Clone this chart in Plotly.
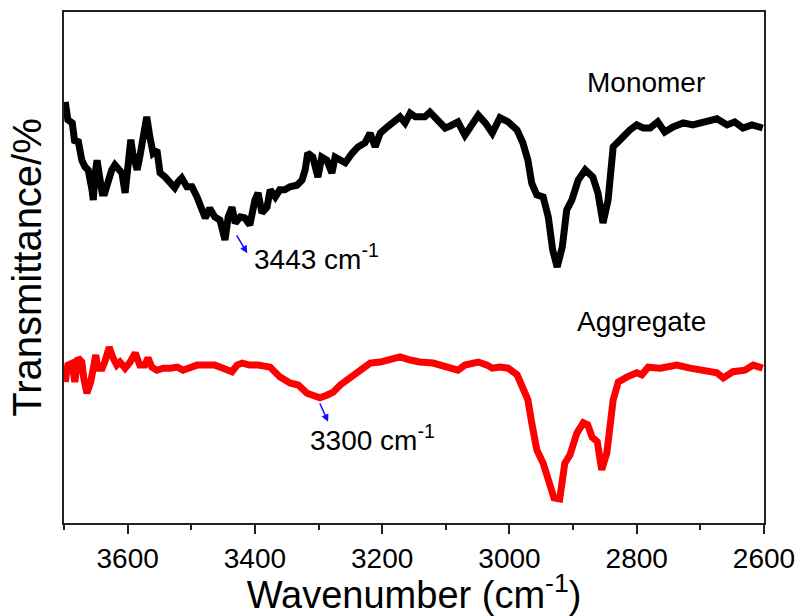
import plotly.graph_objects as go

# ---- data ----
mono_wn = [3698, 3694, 3687, 3683, 3678, 3675, 3672, 3667, 3662, 3656, 3654, 3651, 3648, 3645,
           3640, 3636, 3631, 3625, 3620, 3615, 3609, 3604, 3599, 3595, 3592, 3585, 3581, 3576,
           3570, 3565, 3560, 3554, 3549, 3541, 3533, 3526, 3521, 3515, 3507, 3499, 3491, 3483,
           3478, 3471, 3463, 3455, 3450, 3447, 3442, 3436, 3431, 3423, 3416, 3408, 3400, 3395,
           3389, 3381, 3376, 3368, 3361, 3353, 3345, 3334,
           3326, 3321, 3317, 3309, 3301, 3295, 3287, 3279, 3274, 3266, 3258, 3247, 3238, 3227,
           3219, 3211, 3203, 3192, 3183, 3172, 3164, 3156, 3148, 3141, 3133, 3125, 3114, 3101,
           3093, 3081, 3070, 3062, 3049, 3038, 3027, 3015, 3002, 2988, 2979, 2971, 2965, 2957,
           2947, 2939, 2932, 2925, 2917, 2910, 2902, 2892, 2881, 2869, 2861, 2853, 2845, 2837,
           2829, 2822, 2811, 2800, 2790, 2779, 2767, 2756, 2743, 2727, 2712, 2696, 2674, 2658,
           2646, 2633, 2619, 2602]
mono_t = [82.4, 78.9, 78.3, 74.4, 75.0, 73.0, 71.0, 69.7, 69.1, 65.2, 63.2, 68.5, 71.0, 68.5,
          64.6, 64.6, 67.1, 69.1, 70.1, 69.1, 68.5, 64.6, 69.7, 75.0, 72.4, 69.1, 71.6, 76.3,
          79.5, 75.5, 72.4, 73.0, 68.5, 67.7, 66.7, 65.6, 66.7, 67.5, 65.8, 65.8, 63.8, 61.3,
          59.7, 61.6, 59.9, 59.3, 57.3, 55.4, 59.9, 61.8, 58.7, 59.9, 59.7, 58.3, 63.2, 64.6,
          60.7, 61.8, 65.2, 63.8, 65.2, 65.2, 65.8, 66.1,
          67.1, 69.1, 72.4, 71.6, 67.7, 71.6, 71.0, 68.5, 71.6, 71.0, 70.5, 72.4, 73.6, 74.4,
          76.3, 73.6, 76.3, 77.5, 78.3, 79.5, 78.3, 80.2, 79.5, 79.5, 79.5, 80.4, 78.9, 77.3,
          77.7, 78.5, 75.9, 77.5, 79.8, 78.3, 76.3, 79.3, 78.5, 76.9, 74.4, 71.0, 66.5, 64.2,
          63.8, 59.9, 53.4, 50.1, 54.0, 61.3, 63.2, 67.1, 69.1, 67.7, 64.6, 58.7, 63.2, 73.6,
          74.4, 75.5, 76.9, 77.9, 77.3, 77.3, 78.5, 76.5, 77.5, 78.3, 77.9, 78.3, 79.1, 77.9,
          78.5, 77.3, 77.9, 77.3]

agg_wn = [3698, 3694, 3687, 3683, 3678, 3672, 3669, 3664, 3658, 3654, 3650, 3647, 3640, 3636,
          3629, 3623, 3617, 3612, 3604, 3596, 3588, 3581, 3573, 3568, 3562, 3554, 3544, 3533,
          3522, 3513, 3502, 3491, 3475, 3463, 3450, 3436, 3428, 3420, 3408, 3395,
          3376, 3361, 3345, 3332, 3318, 3309,
          3298, 3287, 3277, 3266, 3251, 3235, 3219, 3203, 3188, 3172, 3156, 3141, 3120, 3097,
          3081, 3070, 3049, 3035, 3027, 3015, 3002, 2988, 2979, 2971, 2965, 2957, 2947, 2936,
          2930, 2921, 2913, 2905, 2894, 2884, 2877, 2870, 2862, 2855, 2847, 2837, 2829, 2815,
          2800, 2792, 2782, 2763, 2737, 2716, 2690, 2674, 2664, 2649, 2630, 2617, 2602]
agg_t = [27.6, 30.9, 31.3, 27.6, 32.3, 31.5, 28.4, 25.4, 27.6, 31.5, 32.9, 30.3, 30.3, 31.5,
         34.4, 32.3, 30.9, 31.5, 30.3, 31.5, 33.3, 30.9, 30.9, 32.3, 30.5, 29.9, 30.3, 30.3,
         30.5, 29.9, 30.5, 30.9, 30.9, 30.9, 30.3, 29.6, 30.9, 31.3, 30.9, 30.9,
         30.5, 28.6, 27.4, 27.0, 25.4, 25.0,
         24.5, 25.0, 25.6, 27.0, 28.4, 29.6, 31.3, 31.5, 31.9, 32.5, 31.9, 31.5, 31.3, 30.5,
         29.9, 30.9, 31.5, 30.9, 30.3, 30.5, 30.3, 29.0, 26.4, 24.1, 19.6, 14.3, 11.7, 7.8,
         4.9, 4.7, 11.7, 13.3, 17.6, 19.6, 19.2, 16.8, 15.9, 10.4, 13.7, 24.1, 27.6, 28.6,
         29.4, 29.0, 30.5, 30.3, 30.9, 30.3, 29.7, 29.4, 28.4, 29.6, 29.9, 30.9, 30.3]

x_ticks = [3600, 3400, 3200, 3000, 2800, 2600]
series_names = ["Monomer", "Aggregate"]
peak_labels = ["3443 cm<sup>-1</sup>", "3300 cm<sup>-1</sup>"]

FONT = "Liberation Sans, Arial, sans-serif"

fig = go.Figure()
fig.add_trace(go.Scatter(x=mono_wn, y=mono_t, mode="lines", name=series_names[0],
                         line=dict(color="black", width=7)))
fig.add_trace(go.Scatter(x=agg_wn, y=agg_t, mode="lines", name=series_names[1],
                         line=dict(color="#ff0000", width=7)))

# series labels
fig.add_annotation(x=2785, y=86.3, text=series_names[0], showarrow=False,
                   font=dict(family=FONT, size=28, color="black"))
fig.add_annotation(x=2793, y=39.5, text=series_names[1], showarrow=False,
                   font=dict(family=FONT, size=28, color="black"))

# peak arrows
fig.add_annotation(x=3412, y=52.8, ax=3430, ay=56.6, axref="x", ayref="y", text="",
                   showarrow=True, arrowhead=2, arrowsize=1, arrowwidth=1.5, arrowcolor="#1010ff")
fig.add_annotation(x=3285, y=19.8, ax=3299, ay=23.7, axref="x", ayref="y", text="",
                   showarrow=True, arrowhead=2, arrowsize=1, arrowwidth=1.5, arrowcolor="#1010ff")
# peak labels
fig.add_annotation(x=3405, y=52.1, text=peak_labels[0], showarrow=False, xanchor="left",
                   font=dict(family=FONT, size=28, color="black"))
fig.add_annotation(x=3317, y=16.6, text=peak_labels[1], showarrow=False, xanchor="left",
                   font=dict(family=FONT, size=28, color="black"))

fig.update_layout(
    width=801, height=616,
    margin=dict(l=64, r=37, t=12, b=93, autoexpand=False),
    paper_bgcolor="white", plot_bgcolor="white",
    showlegend=False,
    font=dict(family=FONT, color="black"),
)
fig.update_xaxes(
    automargin=False,
    range=[3700, 2600], tickvals=x_ticks, ticks="outside", ticklen=9, tickwidth=2,
    tickcolor="#222", showline=True, linecolor="#222", linewidth=2, mirror=True,
    showgrid=False, zeroline=False, tickfont=dict(family=FONT, size=28, color="black"),
    minor=dict(dtick=100, tick0=2600, ticks="outside", ticklen=5, tickwidth=2, tickcolor="#222"),
    title=dict(text="Wavenumber (cm<sup>-1</sup>)", font=dict(family=FONT, size=38, color="black"),
               standoff=6),
)
fig.update_yaxes(
    automargin=False,
    range=[0, 100], showticklabels=False, ticks="", showline=True, linecolor="#222",
    linewidth=2, mirror=True, showgrid=False, zeroline=False,
    title=dict(text="Transmittance/%", font=dict(family=FONT, size=40, color="black"), standoff=8),
)

fig.write_html("out.html")
